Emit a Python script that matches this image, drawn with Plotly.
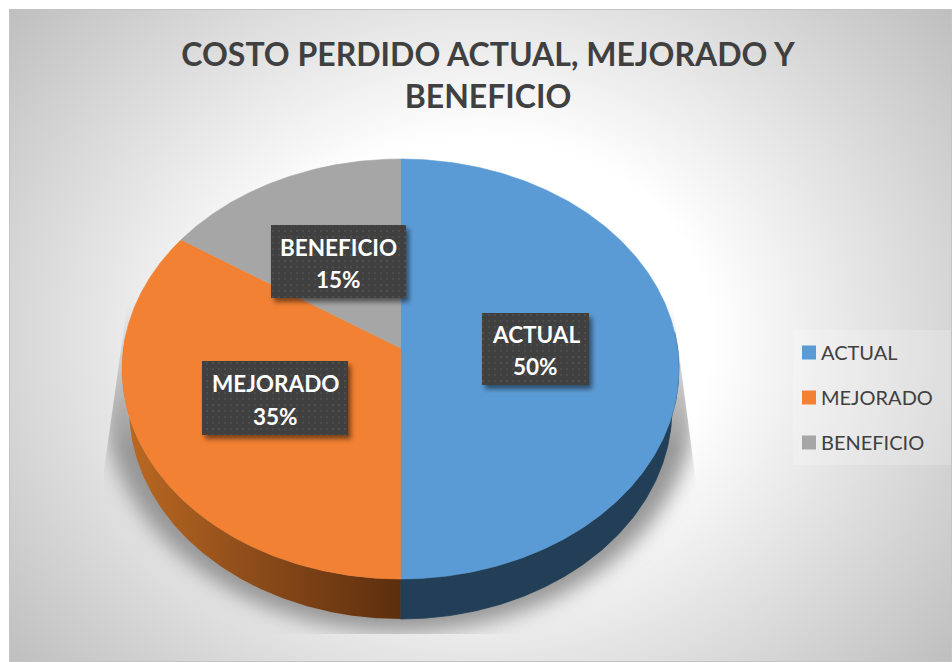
import base64
import numpy as np
import plotly.graph_objects as go

# ---- data ----
categories = ["ACTUAL", "MEJORADO", "BENEFICIO"]
values = [50, 35, 15]
top_colors = ["#5B9BD5", "#F38133", "#A6A6A6"]
wall_colors = ["#223F57", None, None]
title_lines = ["COSTO PERDIDO ACTUAL, MEJORADO Y", "BENEFICIO"]
label_boxes = {"ACTUAL": (482, 313, 589, 385), "MEJORADO": (202, 361, 348, 435), "BENEFICIO": (271, 225, 406, 298)}
label_line_y = {"ACTUAL": (334, 366), "MEJORADO": (383, 416), "BENEFICIO": (247, 279)}

W, H = 952, 662
CX, CY, RX, RY, K, DEPTH = 400.5, 348.0, 277.0, 207.9, 0.1, 40.0
WARP = 2.84


def project(deg, scale=1.0, dy=0.0):
    t = np.radians(deg + WARP * np.sin(np.radians(2 * deg)))
    u, v = np.sin(t), np.cos(t)
    d = 1 + K * v
    return CX + scale * RX * u / d, CY + dy - RY * v / d


total = sum(values)
edges = np.cumsum([0] + values) / total * 360.0

bg = f"""<svg xmlns="http://www.w3.org/2000/svg" width="{W}" height="{H}" viewBox="0 0 {W} {H}">
<defs>
<radialGradient id="g" cx="480" cy="336" r="607" gradientUnits="userSpaceOnUse" gradientTransform="translate(480 336) scale(1 0.85) translate(-480 -336)">
<stop offset="0" stop-color="#ffffff"/><stop offset="0.38" stop-color="#ffffff"/><stop offset="1" stop-color="#bfbfbf"/>
</radialGradient>
<filter id="b" x="-20%" y="-20%" width="140%" height="140%"><feGaussianBlur stdDeviation="10"/></filter>
<clipPath id="c"><polygon points="128,300 104,470 104,634 697,634 697,490 672,300"/></clipPath>
<linearGradient id="f" gradientUnits="userSpaceOnUse" x1="0" y1="300" x2="0" y2="450">
<stop offset="0" stop-color="#000"/><stop offset="1" stop-color="#fff"/></linearGradient>
<mask id="m" maskUnits="userSpaceOnUse" x="0" y="0" width="{W}" height="{H}"><rect width="{W}" height="{H}" fill="url(#f)"/></mask>
</defs>
<rect x="9.5" y="9.5" width="942" height="652" fill="url(#g)" stroke="#c4c4c4"/>
<g clip-path="url(#c)" mask="url(#m)"><ellipse cx="400" cy="400" rx="296" ry="232" fill="#969696" filter="url(#b)"/></g>
<rect x="793" y="330" width="158" height="135" fill="#ffffff" fill-opacity="0.2"/>
</svg>"""

boxes_svg = "".join(
    f'<rect x="{a+3}" y="{b+4}" width="{c-a}" height="{d-b}" fill="#000" fill-opacity="0.5" filter="url(#s)"/>'
    f'<rect x="{a}" y="{b}" width="{c-a}" height="{d-b}" fill="url(#p)"/>'
    for a, b, c, d in label_boxes.values()
)
fg = f"""<svg xmlns="http://www.w3.org/2000/svg" width="{W}" height="{H}" viewBox="0 0 {W} {H}">
<defs>
<filter id="s" x="-20%" y="-20%" width="140%" height="140%"><feGaussianBlur stdDeviation="2.5"/></filter>
<pattern id="p" width="6" height="6" patternUnits="userSpaceOnUse">
<rect width="6" height="6" fill="#404040"/><rect x="2" y="2" width="2" height="2" fill="#4d4d4d"/></pattern>
</defs>{boxes_svg}</svg>"""


def uri(svg):
    return "data:image/svg+xml;base64," + base64.b64encode(svg.encode()).decode()


fig = go.Figure()

# side walls
for i, cat in enumerate(categories):
    deg = np.linspace(edges[i], edges[i + 1], 240)
    deg = deg[(deg >= 85) & (deg <= 275)]
    if deg.size < 2:
        continue
    xt, yt = project(deg)
    xb, yb = project(deg, 0.975, DEPTH)
    if wall_colors[i]:
        kw = dict(fillcolor=wall_colors[i], line=dict(width=0.8, color=wall_colors[i]))
    else:
        kw = dict(line=dict(width=0),
                  fillgradient=dict(type="horizontal", colorscale=[[0, "#BC6A22"], [0.5, "#8A4A1A"], [1, "#5C2E0D"]]))
    fig.add_trace(go.Scatter(x=np.r_[xt, xb[::-1]], y=np.r_[yt, yb[::-1]], mode="lines", fill="toself",
                             showlegend=False, hoverinfo="skip", **kw))

# top faces
for i, cat in enumerate(categories):
    deg = np.linspace(edges[i], edges[i + 1], 360)
    x, y = project(deg)
    fig.add_trace(go.Scatter(x=np.r_[CX, x, CX], y=np.r_[CY, y, CY], mode="lines", fill="toself",
                             fillcolor=top_colors[i], line=dict(width=0.6, color=top_colors[i]), showlegend=False,
                             name=cat, text=f"{cat} {values[i]}%", hoverinfo="text"))

# legend entries
for i, cat in enumerate(categories):
    fig.add_trace(go.Scatter(x=[None], y=[None], mode="markers", name=cat, legendgroup=cat,
                             marker=dict(symbol="square", size=14, color=top_colors[i])))

annotations = []
for i, cat in enumerate(categories):
    a, b, c, d = label_boxes[cat]
    for text, yy in zip((cat, f"{values[i]}%"), label_line_y[cat]):
        annotations.append(dict(x=(a + c) / 2, y=yy, xref="x", yref="y", showarrow=False,
                                text=f"<b>{text}</b>",
                                font=dict(family="Lato", size=22.5, color="#ffffff")))

fig.update_layout(
    width=W, height=H, margin=dict(l=0, r=0, t=0, b=0),
    paper_bgcolor="#ffffff", plot_bgcolor="rgba(0,0,0,0)",
    xaxis=dict(range=[0, W], visible=False, fixedrange=True),
    yaxis=dict(range=[H, 0], visible=False, fixedrange=True),
    title=dict(text="<b>" + "<br>".join(title_lines) + "</b>", x=488 / W, xanchor="center",
               y=1 - 66 / H, yanchor="top", font=dict(family="Lato", size=32, color="#404040")),
    legend=dict(x=781 / W, y=1 - 333 / H, xanchor="left", yanchor="top", bgcolor="rgba(0,0,0,0)",
                font=dict(family="Lato", size=20, color="#404040"),
                traceorder="grouped", tracegroupgap=16, itemsizing="trace"),
    annotations=annotations,
    images=[
        dict(source=uri(bg), xref="paper", yref="paper", x=0, y=1, sizex=1, sizey=1,
             xanchor="left", yanchor="top", sizing="stretch", layer="below"),
        dict(source=uri(fg), xref="paper", yref="paper", x=0, y=1, sizex=1, sizey=1,
             xanchor="left", yanchor="top", sizing="stretch", layer="above"),
    ],
)

fig.write_html(
    "out.html",
    config={"displayModeBar": False},
    post_script="document.body.style.margin='0';"
                "setTimeout(function(){document.querySelectorAll('.legendsymbols')"
                ".forEach(function(g){g.setAttribute('transform','translate(8,0)');});},100);",
)
